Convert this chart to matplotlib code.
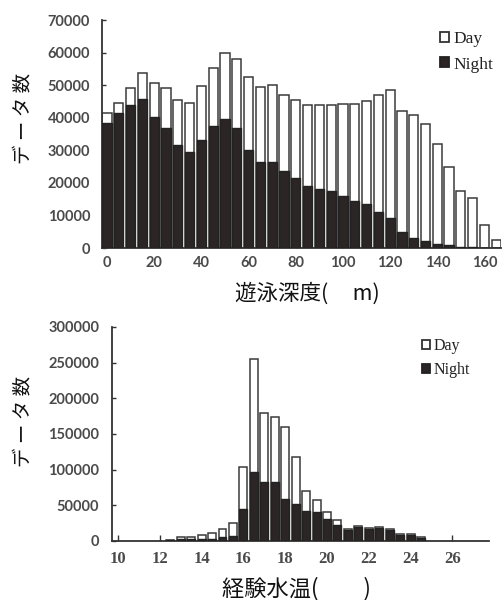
import matplotlib
matplotlib.use("Agg")
import matplotlib.pyplot as plt
from matplotlib.patches import Patch

# ---- data: top chart (swimming depth, m) ----
depth = [0, 5, 10, 15, 20, 25, 30, 35, 40, 45, 50, 55, 60, 65, 70, 75, 80,
         85, 90, 95, 100, 105, 110, 115, 120, 125, 130, 135, 140, 145, 150,
         155, 160, 165]
depth_day = [41400, 44400, 49200, 53600, 50700, 49000, 45400, 44600, 49700,
             55300, 59900, 58000, 52400, 49300, 50000, 46900, 45400, 43900,
             43900, 43900, 44200, 44200, 45100, 46900, 48500, 42000, 40800,
             38200, 31900, 24800, 17600, 15500, 7100, 2500]
depth_night = [38300, 41300, 43900, 45600, 40300, 36700, 31600, 29500, 33300,
               37400, 39600, 36700, 30200, 26500, 26300, 23700, 21400, 19100,
               18000, 17500, 16000, 14500, 13400, 11100, 9100, 5000, 3000,
               2000, 1200, 900, 300, 200, 0, 0]
depth_ticks = [0, 20, 40, 60, 80, 100, 120, 140, 160]
depth_yticks = [0, 10000, 20000, 30000, 40000, 50000, 60000, 70000]

# ---- data: bottom chart (experienced water temperature) ----
temp = [12.5, 13.0, 13.5, 14.0, 14.5, 15.0, 15.5, 16.0, 16.5, 17.0, 17.5,
        18.0, 18.5, 19.0, 19.5, 20.0, 20.5, 21.0, 21.5, 22.0, 22.5, 23.0,
        23.5, 24.0, 24.5]
temp_day = [1400, 6000, 6000, 8400, 10800, 16400, 24800, 104000, 254500,
            179700, 174100, 160000, 117200, 70000, 57400, 41000, 29400, 16400,
            21000, 17800, 20000, 16400, 9400, 9400, 5600]
temp_night = [1000, 2400, 2400, 3500, 3500, 5600, 6500, 44800, 97000, 82200,
              82200, 58800, 51800, 42000, 40200, 30400, 22400, 15400, 19200,
              16400, 17800, 15400, 8000, 8000, 4200]
temp_ticks = [10, 12, 14, 16, 18, 20, 22, 24, 26]
temp_yticks = [0, 50000, 100000, 150000, 200000, 250000, 300000]

CJK = ['Noto Sans CJK JP', 'DejaVu Sans']
DARK = '#2b2525'
EDGE = '#3a3a3a'
SPINE = '#333333'
TICKC = '#4a4a4a'

W, H = 503, 600
fig = plt.figure(figsize=(W / 100, H / 100), dpi=100)

ax1 = fig.add_axes([102 / W, 1 - 248 / H, (501 - 102) / W, (248 - 20) / H])
ax2 = fig.add_axes([111.7 / W, 1 - 541 / H, (489 - 111.7) / W, (541 - 327) / H])

def style(ax):
    for s in ['top', 'right']:
        ax.spines[s].set_visible(False)
    for s in ['left', 'bottom']:
        ax.spines[s].set_color(SPINE)
        ax.spines[s].set_linewidth(1.3)

# top chart
ax1.bar(depth, depth_day, width=3.9, color='white', edgecolor=EDGE,
        linewidth=1.1, zorder=2)
ax1.bar(depth, depth_night, width=3.9, color=DARK, edgecolor='#222222',
        linewidth=1.0, zorder=3)
ax1.set_xlim(-2.1, 167)
ax1.set_ylim(0, 70000)
ax1.set_xticks(depth_ticks)
ax1.set_xticklabels([str(t) for t in depth_ticks])
ax1.set_yticks(depth_yticks)
ax1.set_yticklabels([str(t) for t in depth_yticks])
style(ax1)
ax1.tick_params(axis='y', direction='in', length=3, width=1.0, color=SPINE,
                pad=8.5, labelsize=10.5, labelcolor=TICKC)
ax1.tick_params(axis='x', direction='in', length=3, width=1.0, color=SPINE,
                pad=6, labelsize=10.5, labelcolor=TICKC)
for lab in ax1.get_xticklabels() + ax1.get_yticklabels():
    lab.set_family('Lato')
    lab.set_fontweight('bold')

# bottom chart
ax2.bar(temp, temp_day, width=0.38, color='white', edgecolor=EDGE,
        linewidth=1.1, zorder=2)
ax2.bar(temp, temp_night, width=0.38, color=DARK, edgecolor='#222222',
        linewidth=1.0, zorder=3)
ax2.set_xlim(9.7, 27.75)
ax2.set_ylim(0, 300000)
ax2.set_xticks(temp_ticks)
ax2.set_xticklabels([str(t) for t in temp_ticks])
ax2.set_yticks(temp_yticks)
ax2.set_yticklabels([str(t) for t in temp_yticks])
style(ax2)
ax2.tick_params(axis='y', direction='in', length=3, width=1.0, color=SPINE,
                pad=9, labelsize=10.5, labelcolor=TICKC)
ax2.tick_params(axis='x', direction='in', length=4, width=1.0, color=SPINE,
                pad=7, labelsize=12, labelcolor=TICKC)
for lab in ax2.get_yticklabels():
    lab.set_family('Lato')
    lab.set_fontweight('bold')
for lab in ax2.get_xticklabels():
    lab.set_family('Liberation Serif')
    lab.set_fontweight('bold')

# labels
fig.text(23 / W, 1 - 118.5 / H, 'デ ー タ 数', rotation=90, ha='center',
         va='center', fontsize=14, family=CJK, color='#111111')
fig.text(23 / W, 1 - 421 / H, 'デ ー タ 数', rotation=90, ha='center',
         va='center', fontsize=14, family=CJK, color='#111111')
fig.text(307.5 / W, 1 - 294 / H, '遊泳深度(     m)', ha='center',
         va='center', fontsize=15.5, family=CJK, color='#111111')
fig.text(296.5 / W, 1 - 589 / H, '経験水温(         )', ha='center',
         va='center', fontsize=16, family=CJK, color='#111111')

# legends
def add_legend(ax, x, y, size, spacing):
    h_day = Patch(facecolor='white', edgecolor='#333333', linewidth=1.3)
    h_night = Patch(facecolor=DARK, edgecolor='#222222', linewidth=1.3)
    ax.legend([h_day, h_night], ['Day', 'Night'], loc='upper left',
              bbox_to_anchor=(x / W, 1 - y / H), bbox_transform=fig.transFigure,
              frameon=False, prop={'family': 'Liberation Serif', 'size': size},
              handlelength=0.5, handleheight=0.5, handletextpad=0.25,
              labelspacing=spacing, borderpad=0, borderaxespad=0,
              labelcolor='#222222')

add_legend(ax1, 440, 31, 12.5, 0.55)
add_legend(ax2, 422, 338, 11.5, 0.5)

fig.savefig('out.png', dpi=100)
